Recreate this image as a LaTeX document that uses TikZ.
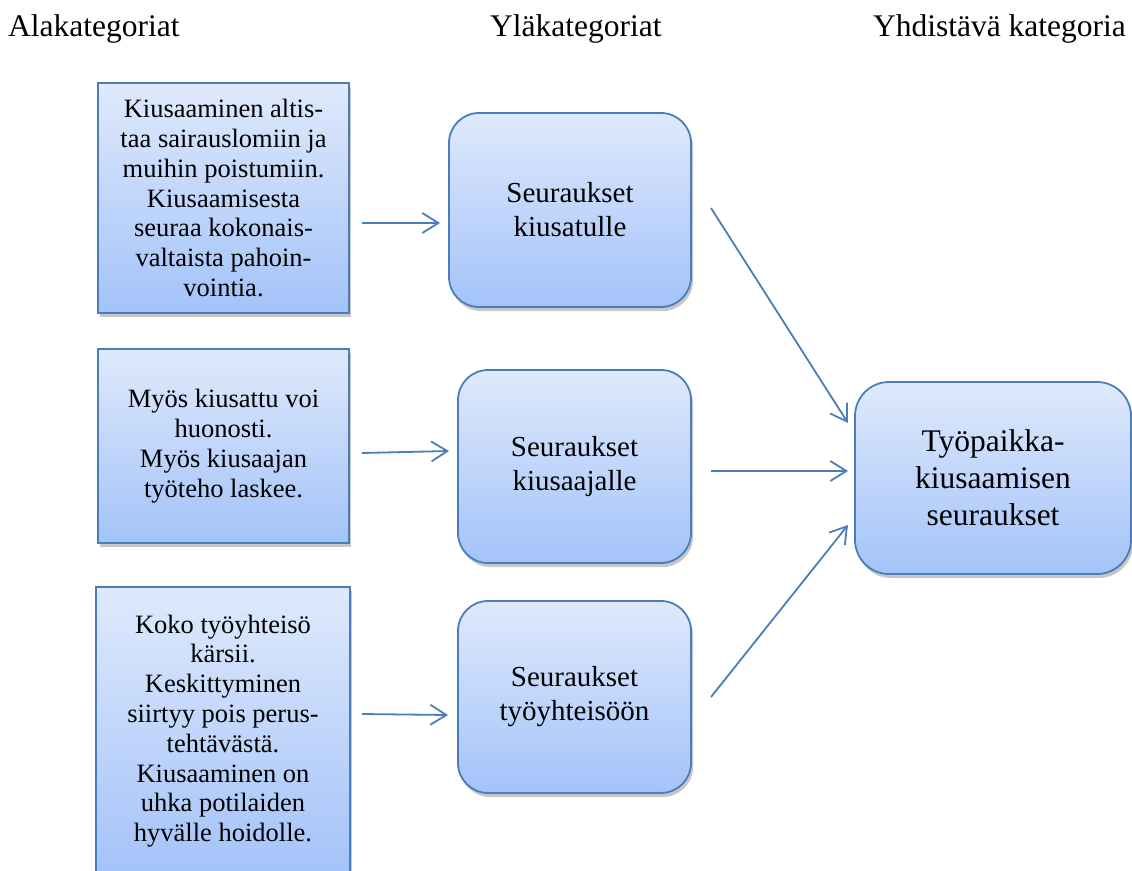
\documentclass[tikz,border=0pt]{standalone}
\usepackage{fontspec}
\setmainfont{Liberation Serif}
\usetikzlibrary{arrows.meta,shadows}

\definecolor{boxline}{RGB}{74,126,187}
\definecolor{boxtop}{RGB}{223,233,252}
\definecolor{boxbottom}{RGB}{163,195,249}

\tikzset{
  basebox/.style={draw=boxline, line width=1.8pt, top color=boxtop, bottom color=boxbottom,
    inner sep=0pt, align=center, text=black,
    drop shadow={shadow xshift=2pt, shadow yshift=-4pt, opacity=0.22, fill=black}},
  subbox/.style={basebox, font=\fontsize{26.5}{29.8}\selectfont},
  upperbox/.style={basebox, rounded corners=30pt, font=\fontsize{29}{34}\selectfont},
  mainbox/.style={basebox, rounded corners=34pt, font=\fontsize{31.5}{37}\selectfont},
  heading/.style={font=\fontsize{31.5}{36}\selectfont, inner sep=0pt},
  link/.style={draw=boxline, line width=1.8pt, -{Straight Barb[length=16pt,width=20pt,line width=1.8pt]}}
}

\begin{document}
\begin{tikzpicture}[x=1pt, y=-1pt]
\useasboundingbox (0,0) rectangle (1132,870);
\clip (0,0) rectangle (1132,870);

% column headings
\node[heading, anchor=base west] (h1) at (8,36) {Alakategoriat};
\node[heading, anchor=base west] (h2) at (490,36) {Yläkategoriat};
\node[heading, anchor=base east] (h3) at (1126,36) {Yhdistävä kategoria};

% sub-categories
\node[subbox, minimum width=251pt, minimum height=230pt] (l1) at (223.5,198)
  {Kiusaaminen altis-\\taa sairauslomiin ja\\muihin poistumiin.\\Kiusaamisesta\\seuraa kokonais-\\valtaista pahoin-\\vointia.};
\node[subbox, minimum width=251pt, minimum height=194pt] (l2) at (223.5,446)
  {Myös kiusattu voi\\huonosti.\\Myös kiusaajan\\työteho laskee.};
\node[subbox, minimum width=254pt, minimum height=288pt] (l3) at (223,731)
  {Koko työyhteisö\\kärsii.\\Keskittyminen\\siirtyy pois perus-\\tehtävästä.\\Kiusaaminen on\\uhka potilaiden\\hyvälle hoidolle.};

% upper categories
\node[upperbox, minimum width=242pt, minimum height=194pt] (m1) at (570,210)
  {Seuraukset\\kiusatulle};
\node[upperbox, minimum width=233pt, minimum height=193pt] (m2) at (574.5,466.5)
  {Seuraukset\\kiusaajalle};
\node[upperbox, minimum width=233pt, minimum height=192pt] (m3) at (574.5,697)
  {Seuraukset\\työyhteisöön};

% unifying category
\node[mainbox, minimum width=276pt, minimum height=192pt] (r) at (993,478)
  {Työpaikka-\\kiusaamisen\\seuraukset};

% connector end points
\coordinate (a1s) at (362,223);
\coordinate (a1e) at (440,223);
\coordinate (a2s) at (362,453);
\coordinate (a2e) at (449,451);
\coordinate (a3s) at (362,714);
\coordinate (a3e) at (448,715);
\coordinate (b1s) at (711,208);
\coordinate (b1e) at (848,423);
\coordinate (b2s) at (711,471);
\coordinate (b2e) at (848,471);
\coordinate (b3s) at (711,697);
\coordinate (b3e) at (848,525);

\draw[link] (a1s) -- (a1e);
\draw[link] (a2s) -- (a2e);
\draw[link] (a3s) -- (a3e);
\draw[link] (b1s) -- (b1e);
\draw[link] (b2s) -- (b2e);
\draw[link] (b3s) -- (b3e);
\end{tikzpicture}
\end{document}
